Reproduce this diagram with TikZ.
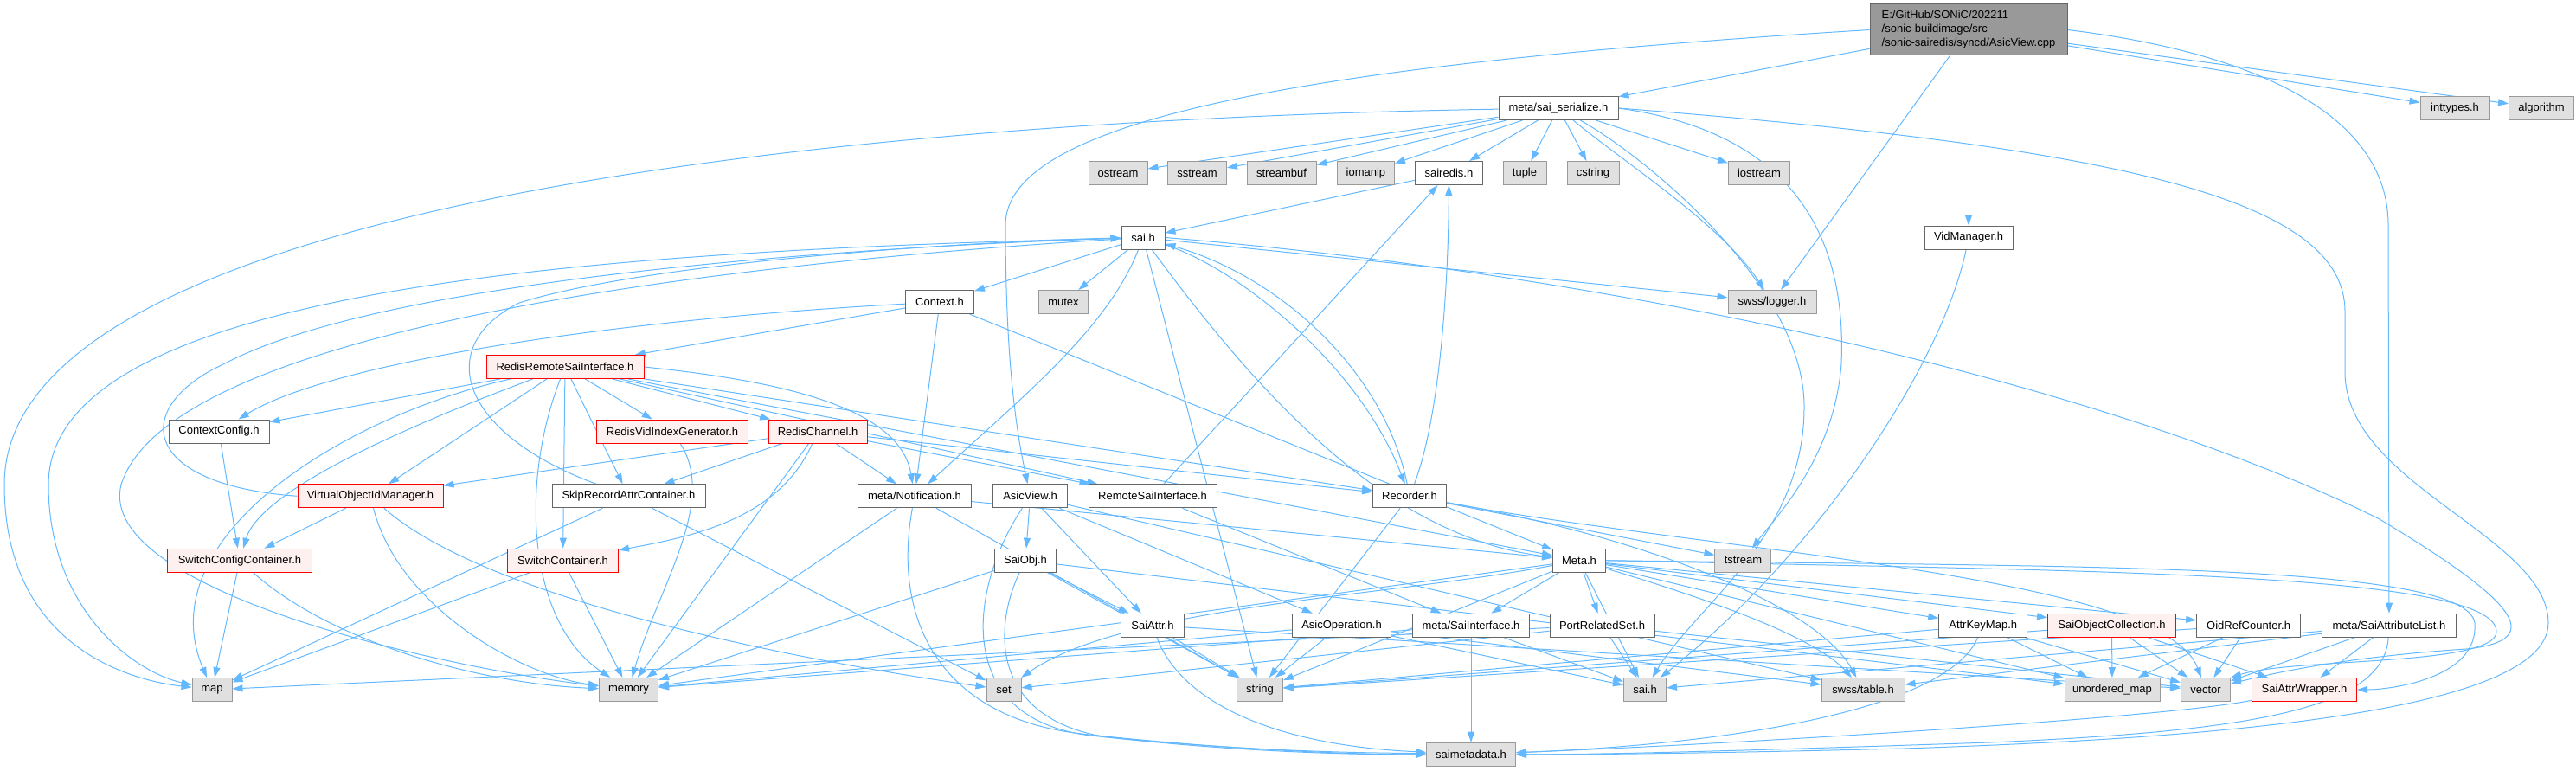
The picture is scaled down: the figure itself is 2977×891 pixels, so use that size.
\documentclass[tikz,border=0pt]{standalone}
\usepackage{fontspec}
\setmainfont{Liberation Sans}
\usetikzlibrary{arrows.meta,backgrounds}
\definecolor{edgeblue}{HTML}{63B8FF}
\definecolor{nbord}{HTML}{666666}
\definecolor{xfill}{HTML}{E0E0E0}
\definecolor{xbord}{HTML}{999999}
\definecolor{rfill}{HTML}{FFF0F0}
\definecolor{rbord}{HTML}{FF0000}
\definecolor{rootfill}{HTML}{999999}
\tikzset{
  box/.style={rectangle, minimum height=27pt, inner sep=0pt, line width=1pt, font=\fontsize{13}{16}\selectfont},
  normal/.style={box, draw=nbord, fill=white},
  ext/.style={box, draw=xbord, fill=xfill},
  red/.style={box, draw=rbord, fill=rfill},
  rootnode/.style={box, draw=nbord, fill=rootfill, align=left, minimum height=59pt},
  edge/.style={draw=edgeblue, line width=1pt, -{Triangle[length=12pt,width=8pt]}}
}
\begin{document}
\begin{tikzpicture}[x=1pt,y=-1pt]
\useasboundingbox (0,0) rectangle (2977,891);
% nodes
\node[rootnode, minimum width=228pt] (root) at (2275,34.5) {E:/GitHub/SONiC/202211\\/sonic-buildimage/src\\/sonic-sairedis/syncd/AsicView.cpp};
\node[normal, minimum width=138pt] (saiser) at (1801,125) {meta/sai\_serialize.h};
\node[ext, minimum width=80pt] (inttypes) at (2837,125) {inttypes.h};
\node[ext, minimum width=75pt] (algorithm) at (2937,125) {algorithm};
\node[ext, minimum width=68pt] (ostream) at (1292,200) {ostream};
\node[ext, minimum width=68pt] (sstream) at (1383.5,200) {sstream};
\node[ext, minimum width=80pt] (streambuf) at (1481,200) {streambuf};
\node[ext, minimum width=66pt] (iomanip) at (1578.4,200) {iomanip};
\node[normal, minimum width=78pt] (sairedis) at (1674.4,200) {sairedis.h};
\node[ext, minimum width=50pt] (tuple) at (1762,200) {tuple};
\node[ext, minimum width=60pt] (cstring) at (1841,200) {cstring};
\node[ext, minimum width=71pt] (iostream) at (2033,200) {iostream};
\node[normal, minimum width=50pt] (saih) at (1321,274.5) {sai.h};
\node[normal, minimum width=102pt] (vidmgr) at (2275,274.5) {VidManager.h};
\node[normal, minimum width=79pt] (context) at (1086,349) {Context.h};
\node[ext, minimum width=57pt] (mutex) at (1229,349) {mutex};
\node[ext, minimum width=102pt] (logger) at (2048,349) {swss/logger.h};
\node[red, minimum width=182pt] (rrsi) at (653,424) {RedisRemoteSaiInterface.h};
\node[normal, minimum width=116pt] (ctxcfg) at (253,498.5) {ContextConfig.h};
\node[red, minimum width=175pt] (rvig) at (777,498.5) {RedisVidIndexGenerator.h};
\node[red, minimum width=114pt] (rchan) at (945,498.5) {RedisChannel.h};
\node[red, minimum width=168pt] (voim) at (428,573.3) {VirtualObjectIdManager.h};
\node[normal, minimum width=177pt] (skip) at (726.5,573.3) {SkipRecordAttrContainer.h};
\node[normal, minimum width=131pt] (notif) at (1057,573.3) {meta/Notification.h};
\node[normal, minimum width=86pt] (asicview) at (1190.6,573.3) {AsicView.h};
\node[normal, minimum width=148pt] (rsi) at (1332,573.3) {RemoteSaiInterface.h};
\node[normal, minimum width=85pt] (recorder) at (1629,573.3) {Recorder.h};
\node[red, minimum width=167pt] (scc) at (277,647.7) {SwitchConfigContainer.h};
\node[red, minimum width=128pt] (swc) at (650.5,647.7) {SwitchContainer.h};
\node[normal, minimum width=71pt] (saiobj) at (1185,647.7) {SaiObj.h};
\node[normal, minimum width=61pt] (meta) at (1825,647.7) {Meta.h};
\node[ext, minimum width=65pt] (fstream) at (2014.4,647.7) {tstream};
\node[normal, minimum width=73pt] (saiattr) at (1332,722.7) {SaiAttr.h};
\node[normal, minimum width=114pt] (asicop) at (1550.5,722.7) {AsicOperation.h};
\node[normal, minimum width=135pt] (saiif) at (1700,722.7) {meta/SaiInterface.h};
\node[normal, minimum width=121pt] (prs) at (1851.5,722.7) {PortRelatedSet.h};
\node[normal, minimum width=102pt] (akm) at (2291.7,722.7) {AttrKeyMap.h};
\node[red, minimum width=148pt] (soc) at (2440.5,722.7) {SaiObjectCollection.h};
\node[normal, minimum width=120pt] (orc) at (2598.6,722.7) {OidRefCounter.h};
\node[normal, minimum width=155pt] (sal) at (2761,722.7) {meta/SaiAttributeList.h};
\node[ext, minimum width=46pt] (map) at (245,797) {map};
\node[ext, minimum width=68pt] (memory) at (726.5,797) {memory};
\node[ext, minimum width=40pt] (set) at (1160,797) {set};
\node[ext, minimum width=53pt] (string) at (1456,797) {string};
\node[ext, minimum width=49pt] (saih2) at (1901,797) {sai.h};
\node[ext, minimum width=96pt] (table) at (2153,797) {swss/table.h};
\node[ext, minimum width=110pt] (umap) at (2441,797) {unordered\_map};
\node[ext, minimum width=57pt] (vector) at (2549,797) {vector};
\node[red, minimum width=121pt] (saw) at (2663,797) {SaiAttrWrapper.h};
\node[ext, minimum width=103pt] (saimeta) at (1700,871.7) {saimetadata.h};
\begin{scope}[on background layer]
% edges: root
\draw[edge] (root) -- (saiser);
\draw[edge] (root.west) .. controls (1500,75) and (1162,140) .. (1162,260) .. controls (1162,420) and (1175,500) .. (asicview);
\draw[edge] (root) -- (logger);
\draw[edge] (root) -- (vidmgr);
\draw[edge] (root.east) .. controls (2600,60) and (2760,130) .. (2760,260) -- (sal);
\draw[edge] (root) -- (inttypes);
\draw[edge] (root) -- (algorithm);
% sai_serialize
\draw[edge] (saiser) .. controls (900,140) and (5,250) .. (5,560) .. controls (5,740) and (140,785) .. (map);
\draw[edge] (saiser) -- (ostream);
\draw[edge] (saiser) -- (sstream);
\draw[edge] (saiser) -- (streambuf);
\draw[edge] (saiser) -- (iomanip);
\draw[edge] (saiser) -- (sairedis);
\draw[edge] (saiser) -- (tuple);
\draw[edge] (saiser) -- (cstring);
\draw[edge] (saiser) -- (iostream);
\draw[edge] (saiser) .. controls (1880,190) and (1990,260) .. (logger);
\draw[edge] (saiser) .. controls (1900,180) and (2085,330) .. (2085,470) .. controls (2085,620) and (1960,700) .. (saih2);
\draw[edge] (saiser.east) .. controls (2050,150) and (2135,250) .. (2128,420) .. controls (2120,530) and (2050,600) .. (fstream);
\draw[edge] (saiser.east) .. controls (2450,170) and (2710,230) .. (2710,360) -- (2710,430) .. controls (2710,560) and (2945,620) .. (2945,720) .. controls (2945,830) and (2500,855) .. (2200,865) .. controls (2000,870) and (1850,872) .. (saimeta);
% sairedis, vidmanager
\draw[edge] (sairedis) -- (saih);
\draw[edge] (vidmgr) .. controls (2245,420) and (2100,640) .. (saih2);
% sai.h
\draw[edge] (saih) -- (context);
\draw[edge] (saih) -- (mutex);
\draw[edge] (saih) .. controls (1280,380) and (1180,460) .. (notif);
\draw[edge] (saih) -- (string);
\draw[edge] (saih) .. controls (1450,450) and (1600,620) .. (meta);
\draw[edge] (saih) .. controls (1430,310) and (1570,420) .. (recorder);
\draw[edge] (recorder) .. controls (1600,430) and (1480,320) .. (saih);
\draw[edge] (saih) -- (logger);
\draw[edge] (saih) .. controls (700,290) and (56,330) .. (56,560) .. controls (56,700) and (150,775) .. (map);
\draw[edge] (saih) .. controls (900,300) and (200,370) .. (140,560) .. controls (110,680) and (500,770) .. (memory);
\draw[edge] (saih.east) .. controls (1900,320) and (2450,450) .. (2750,600) .. controls (2900,690) and (2950,740) .. (2850,750) .. controls (2700,760) and (2620,780) .. (vector);
% Context.h
\draw[edge] (context) .. controls (700,370) and (380,420) .. (ctxcfg);
\draw[edge] (context) -- (rrsi);
\draw[edge] (context) -- (notif);
\draw[edge] (context) -- (meta);
% RedisRemoteSaiInterface.h
\draw[edge] (rrsi) -- (ctxcfg);
\draw[edge] (rrsi) .. controls (400,480) and (170,620) .. (map);
\draw[edge] (rrsi) .. controls (450,500) and (300,570) .. (scc);
\draw[edge] (rrsi) -- (voim);
\draw[edge] (rrsi) .. controls (600,560) and (610,720) .. (memory);
\draw[edge] (rrsi) -- (swc);
\draw[edge] (rrsi) -- (skip);
\draw[edge] (rrsi) -- (rvig);
\draw[edge] (rrsi) -- (rchan);
\draw[edge] (rrsi.east) .. controls (900,440) and (1040,470) .. (notif);
\draw[edge] (rrsi) -- (rsi);
\draw[edge] (rrsi) -- (recorder);
\draw[edge] (rrsi) -- (meta);
% ContextConfig, RedisVidIndexGenerator
\draw[edge] (ctxcfg) -- (scc);
\draw[edge] (rvig) .. controls (830,580) and (760,680) .. (memory);
% RedisChannel
\draw[edge] (rchan) -- (voim);
\draw[edge] (rchan) -- (skip);
\draw[edge] (rchan) .. controls (900,600) and (800,620) .. (swc);
\draw[edge] (rchan) -- (memory);
\draw[edge] (rchan) -- (notif);
\draw[edge] (rchan) -- (rsi);
\draw[edge] (rchan) -- (recorder);
% VirtualObjectIdManager
\draw[edge] (voim) -- (scc);
\draw[edge] (voim) .. controls (460,700) and (600,780) .. (memory);
\draw[edge] (voim) .. controls (560,690) and (900,760) .. (set);
\draw[edge] (voim.west) .. controls (160,560) and (150,470) .. (260,420) .. controls (450,320) and (1000,285) .. (saih);
% SkipRecordAttrContainer
\draw[edge] (skip) -- (map);
\draw[edge] (skip) -- (set);
\draw[edge] (skip) .. controls (530,500) and (500,400) .. (600,350) .. controls (760,300) and (1150,278) .. (saih);
% SwitchConfigContainer, SwitchContainer
\draw[edge] (scc) -- (map);
\draw[edge] (scc) .. controls (380,740) and (550,790) .. (memory);
\draw[edge] (swc) -- (map);
\draw[edge] (swc) -- (memory);
% Notification
\draw[edge] (notif) -- (memory);
\draw[edge] (notif) .. controls (1030,720) and (1090,830) .. (1250,848) .. controls (1450,870) and (1600,872) .. (saimeta);
\draw[edge] (notif) -- (string);
\draw[edge] (notif) -- (meta);
% AsicView.h
\draw[edge] (asicview) -- (saiobj);
\draw[edge] (asicview) -- (saiattr);
\draw[edge] (asicview) -- (asicop);
\draw[edge] (asicview) .. controls (1120,680) and (1100,830) .. (1260,850) .. controls (1450,870) and (1600,870) .. (saimeta);
\draw[edge] (asicview) -- (table);
% RemoteSaiInterface
\draw[edge] (rsi) -- (sairedis);
\draw[edge] (rsi) -- (saiif);
% Recorder
\draw[edge] (recorder) .. controls (1665,480) and (1674,320) .. (sairedis);
\draw[edge] (recorder) -- (string);
\draw[edge] (recorder) -- (fstream);
\draw[edge] (recorder) .. controls (1900,620) and (2100,700) .. (table);
\draw[edge] (recorder) .. controls (2000,640) and (2500,665) .. (vector);
% SaiObj
\draw[edge] (saiobj) -- (saiattr);
\draw[edge] (saiobj) -- (memory);
\draw[edge] (saiobj) -- (string);
\draw[edge] (saiobj) .. controls (1150,720) and (1140,830) .. (1280,852) .. controls (1460,872) and (1600,872) .. (saimeta);
\draw[edge] (saiobj) -- (umap);
% Meta.h
\draw[edge] (meta) -- (saiif);
\draw[edge] (meta) -- (prs);
\draw[edge] (meta) -- (akm);
\draw[edge] (meta) -- (soc);
\draw[edge] (meta) -- (orc);
\draw[edge] (meta) .. controls (2000,700) and (2100,740) .. (table);
\draw[edge] (meta) -- (umap);
\draw[edge] (meta.east) .. controls (2400,655) and (2850,650) .. (2860,720) .. controls (2865,785) and (2760,797) .. (saw);
\draw[edge] (meta.east) .. controls (2400,660) and (2885,660) .. (2885,730) .. controls (2885,770) and (2650,760) .. (vector.north east);
\draw[edge] (meta) .. controls (1600,690) and (1300,700) .. (set);
\draw[edge] (meta) -- (memory);
\draw[edge] (meta) -- (string);
\draw[edge] (meta) -- (saih2);
% SaiAttr
\draw[edge] (saiattr) -- (string);
\draw[edge] (saiattr) .. controls (1360,800) and (1450,860) .. (saimeta);
\draw[edge] (saiattr) -- (vector);
% AsicOperation
\draw[edge] (asicop) -- (string);
\draw[edge] (asicop) -- (memory);
\draw[edge] (asicop) -- (saih2);
\draw[edge] (asicop) -- (table);
% SaiInterface
\draw[edge] (saiif) -- (saimeta);
\draw[edge] (saiif) -- (saih2);
\draw[edge] (saiif) -- (memory);
% PortRelatedSet
\draw[edge] (prs) -- (saih2);
\draw[edge] (prs) -- (map);
\draw[edge] (prs) -- (set);
\draw[edge] (prs) -- (vector);
% AttrKeyMap
\draw[edge] (akm) .. controls (2250,820) and (2000,860) .. (saimeta);
\draw[edge] (akm) -- (umap);
\draw[edge] (akm) -- (vector);
\draw[edge] (akm) -- (string);
% SaiObjectCollection
\draw[edge] (soc) -- (umap);
\draw[edge] (soc) -- (vector);
\draw[edge] (soc) -- (saw);
\draw[edge] (soc) -- (string);
% OidRefCounter
\draw[edge] (orc) -- (umap);
\draw[edge] (orc) -- (vector);
\draw[edge] (orc) -- (string);
% SaiAttributeList
\draw[edge] (sal) -- (vector);
\draw[edge] (sal) -- (saw);
\draw[edge] (sal) -- (saih2);
\draw[edge] (sal) -- (table);
\draw[edge] (sal) .. controls (2755,820) and (2600,845) .. (2300,858) .. controls (2000,868) and (1850,872) .. (saimeta);
% SaiAttrWrapper
\draw[edge] (saw) .. controls (2500,830) and (2000,860) .. (saimeta);
\end{scope}
\end{tikzpicture}
\end{document}
